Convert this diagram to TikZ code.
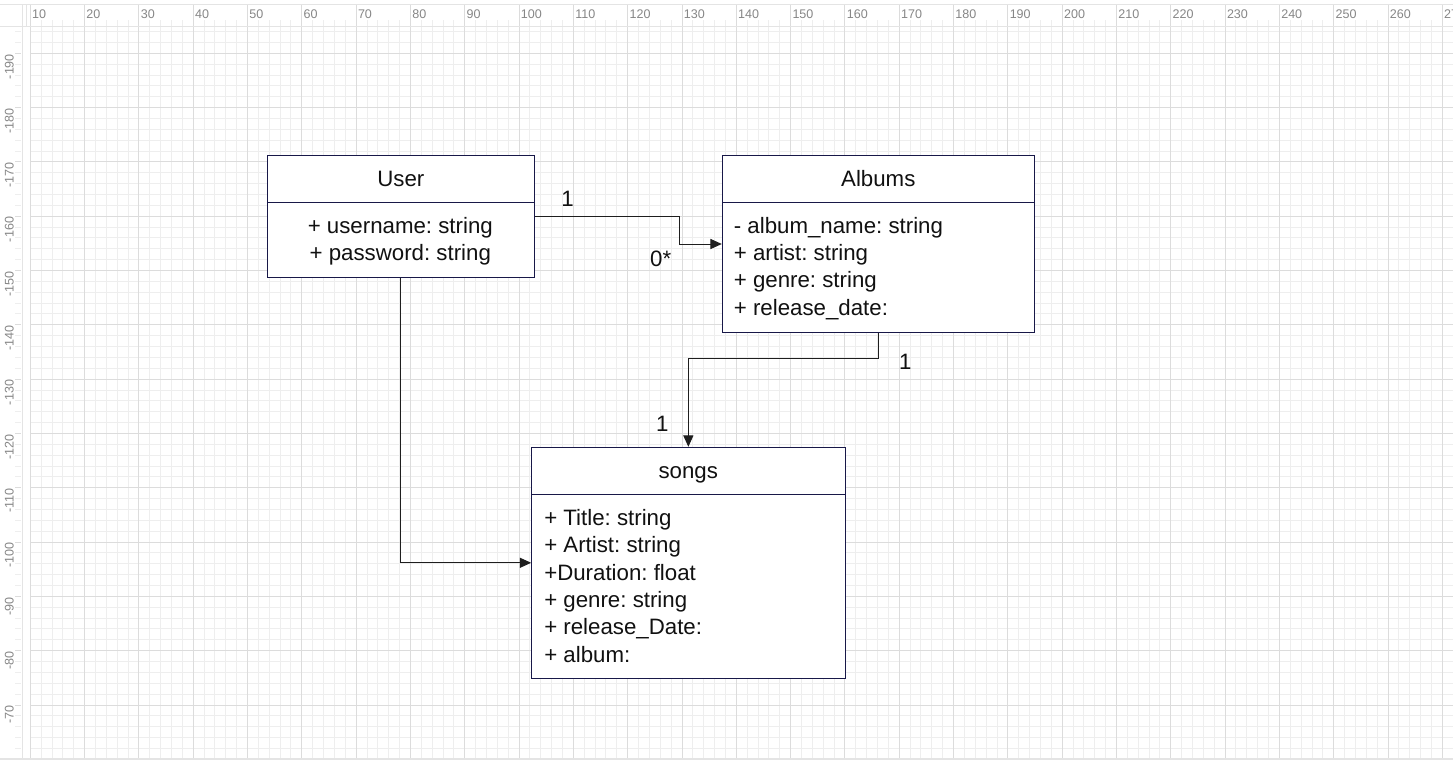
\documentclass[tikz,border=0pt]{standalone}
\usepackage{fontspec}
\setmainfont{Liberation Sans}
\usetikzlibrary{arrows.meta}
\frenchspacing
\definecolor{boxc}{RGB}{24,24,72}
\definecolor{txtc}{RGB}{17,17,17}
\definecolor{connc}{RGB}{30,30,30}
\definecolor{minorc}{RGB}{238,238,238}
\definecolor{majorc}{RGB}{220,220,220}
\definecolor{rulerc}{RGB}{228,228,228}
\definecolor{rulertxt}{RGB}{135,135,135}
\newcommand\umlfont{\fontsize{16.7pt}{20pt}\selectfont}
\newcommand\rulefont{\fontsize{9.4pt}{10pt}\selectfont}
\tikzset{
  minorgrid/.style={draw=minorc, line width=0.75pt},
  majorgrid/.style={draw=majorc, line width=0.75pt},
  rulerline/.style={draw=rulerc, line width=0.75pt},
  rulerlabel/.style={inner sep=0pt, text=rulertxt, font=\rulefont},
  umlbox/.style={draw=boxc, line width=0.75pt, fill=white, inner sep=0pt},
  sepline/.style={draw=boxc, line width=0.75pt},
  titletext/.style={anchor=base, inner sep=0pt, text=txtc, font=\umlfont},
  attrtext/.style={anchor=base west, inner sep=0pt, text=txtc, font=\umlfont},
  attrcenter/.style={anchor=base, inner sep=0pt, text=txtc, font=\umlfont},
  multlabel/.style={anchor=base, inner sep=0pt, text=txtc, font=\umlfont},
  conn/.style={draw=connc, line width=0.75pt, -{Triangle[length=8.5pt,width=7.5pt]}},
}
\begin{document}
\begin{tikzpicture}[x=0.75pt,y=-0.75pt]
\useasboundingbox (0,0) rectangle (1453,760);
\fill[white] (0,0) rectangle (1453,760);
% ---- grid: minor lines ----
\foreach \k in {0,...,130}{
  \pgfmathsetmacro\xx{30.3+10.862*\k}
  \pgfmathtruncatemacro\mm{mod(\k,5)}
  \ifnum\mm=0\relax\else
    \draw[minorgrid] (\xx,20) -- (\xx,758);
  \fi
}
\foreach \j in {-2,...,64}{
  \pgfmathsetmacro\yy{53.3+10.862*\j}
  \pgfmathtruncatemacro\mm{abs(mod(\j,5))}
  \ifnum\mm=0\relax\else
    \draw[minorgrid] (15,\yy) -- (21,\yy);
    \draw[minorgrid] (30.3,\yy) -- (1453,\yy);
  \fi
}
% ---- grid: major lines ----
\foreach \k in {0,5,...,130}{
  \pgfmathsetmacro\xx{30.3+10.862*\k}
  \draw[majorgrid] (\xx,4.3) -- (\xx,758);
  \pgfmathtruncatemacro\lab{10+2*\k}
  \node[rulerlabel, anchor=base west] at (\xx+1.6,18.6) {\lab};
}
\foreach \j in {0,5,...,60}{
  \pgfmathsetmacro\yy{53.3+10.862*\j}
  \draw[majorgrid] (15,\yy) -- (21,\yy);
  \draw[majorgrid] (30.3,\yy) -- (1453,\yy);
  \pgfmathtruncatemacro\lab{-190+2*\j}
  \node[rulerlabel, rotate=90, anchor=base east] at (13.7,\yy+0.5) {\lab};
}
% ---- ruler borders ----
\draw[rulerline] (0,4.3) -- (1453,4.3);
\draw[rulerline] (0,26.3) -- (1453,26.3);
\draw[rulerline] (22,4.3) -- (22,760);
\draw[rulerline] (26,4.3) -- (26,26.3);
\fill[rulerc] (0,758) rectangle (1453,760);
% ---- class boxes ----
\node[umlbox, minimum width=200.25pt, minimum height=91.2pt] (user) at (400.8,216.5) {};
\node[umlbox, minimum width=234pt, minimum height=132.45pt] (albums) at (878.3,244) {};
\node[umlbox, minimum width=235pt, minimum height=173.25pt] (songs) at (688.35,562.8) {};
\coordinate (sepA) at (0,202.3);
\coordinate (sepS) at (0,494.3);
\draw[sepline] (user.west |- sepA) -- (user.east |- sepA);
\draw[sepline] (albums.west |- sepA) -- (albums.east |- sepA);
\draw[sepline] (songs.west |- sepS) -- (songs.east |- sepS);
% titles
\node[titletext] (usertitle) at (400.8,186.5) {User};
\node[titletext] (albumstitle) at (878.3,186.7) {Albums};
\node[titletext] (songstitle) at (688.3,478.3) {songs};
% User attributes
\node[attrcenter] (u1) at (400.3,233.3) {+ username: string};
\node[attrcenter] (u2) at (400.3,260.7) {+ password: string};
% Albums attributes
\node[attrtext] (a1) at (733.6,233.3) {- album\_name: string};
\node[attrtext] (a2) at (733.6,260.6) {+ artist: string};
\node[attrtext] (a3) at (733.6,287.9) {+ genre: string};
\node[attrtext] (a4) at (733.6,315.4) {+ release\_date:};
% songs attributes
\node[attrtext] (s1) at (544,525.5) {+ Title: string};
\node[attrtext] (s2) at (544,552.8) {+ Artist: string};
\node[attrtext] (s3) at (544,580.1) {+Duration: float};
\node[attrtext] (s4) at (544,607.5) {+ genre: string};
\node[attrtext] (s5) at (544,634.9) {+ release\_Date:};
\node[attrtext] (s6) at (544,662.4) {+ album:};
% ---- connectors ----
\coordinate (e1) at (679.3,0);
\coordinate (e2) at (0,358.3);
\draw[conn] (user.east) -| (e1 |- albums.west) -- (albums.west);
\draw[conn] (albums.south) |- (songs.north |- e2) -- (songs.north);
\draw[conn] (user.south) |- (songs.west);
% multiplicities
\node[multlabel] (m1) at (567.5,206) {1};
\node[multlabel] (m2) at (660.7,266) {0*};
\node[multlabel] (m3) at (905.2,369.3) {1};
\node[multlabel] (m4) at (662.2,431.7) {1};
\end{tikzpicture}
\end{document}
